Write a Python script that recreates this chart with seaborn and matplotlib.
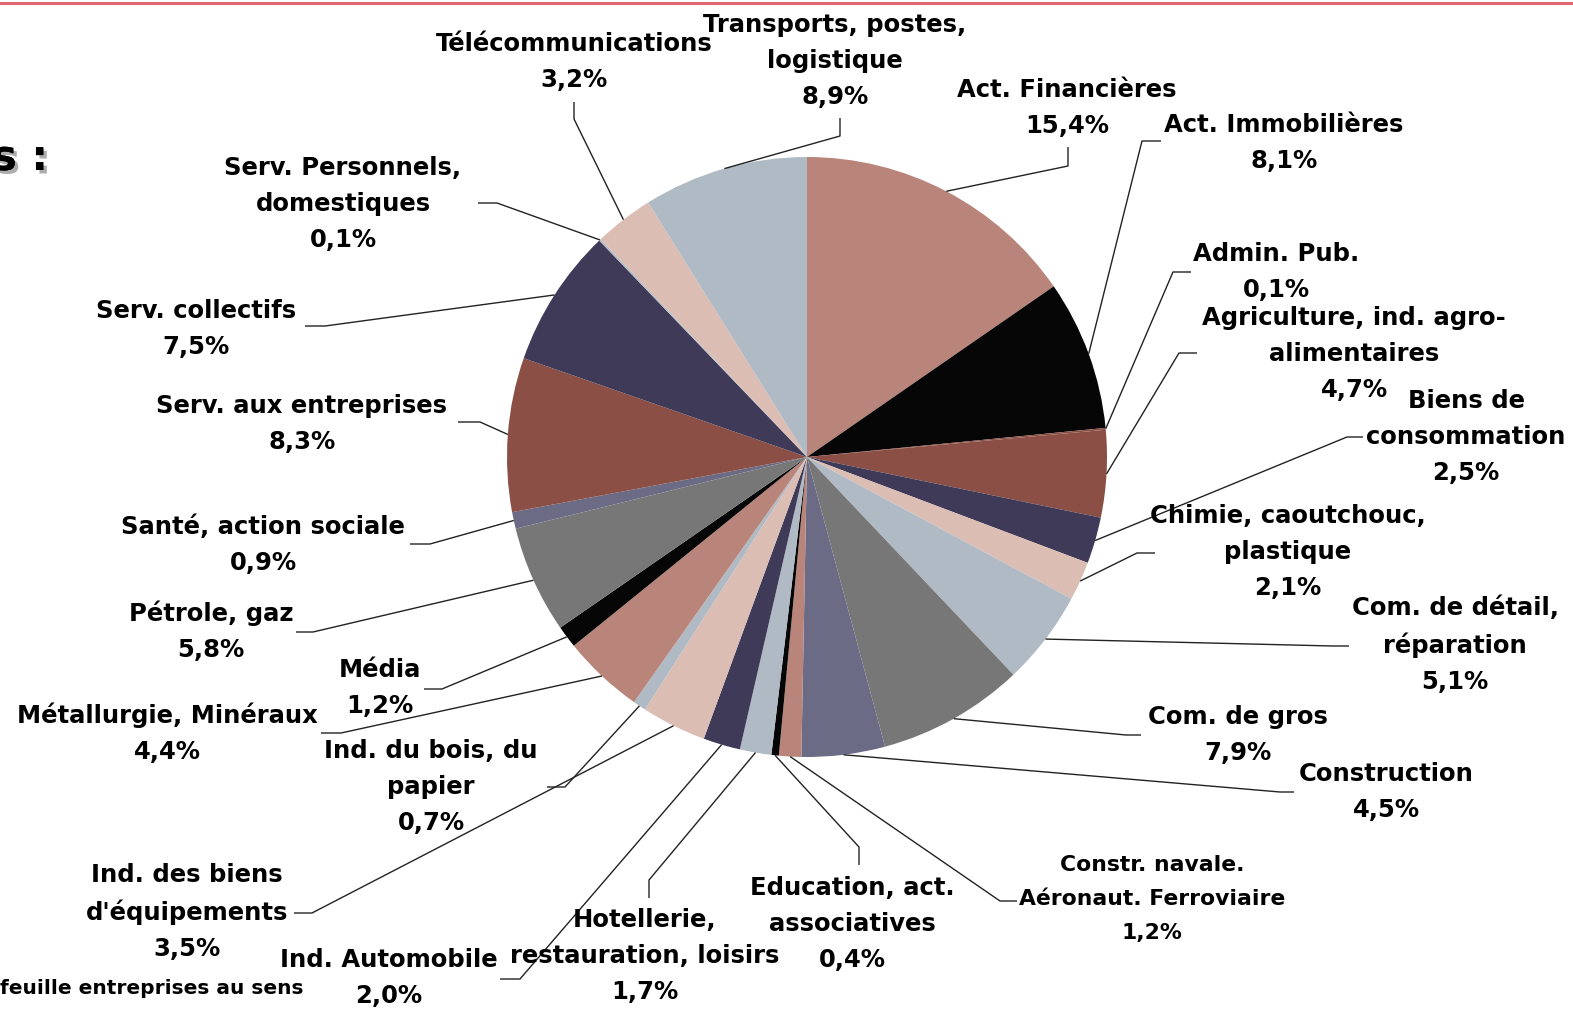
import matplotlib
matplotlib.use("Agg")
import matplotlib.pyplot as plt
import matplotlib.patheffects as pe
from matplotlib.lines import Line2D
import numpy as np
import seaborn as sns

sns.set_theme(style="white")
plt.rcParams['font.family'] = ['DejaVu Sans']

# ---------------- data ----------------
sectors = [
    "Act. Financières", "Act. Immobilières", "Admin. Pub.",
    "Agriculture, ind. agro-\nalimentaires", "Biens de\nconsommation",
    "Chimie, caoutchouc,\nplastique", "Com. de détail,\nréparation",
    "Com. de gros", "Construction", "Constr. navale.\nAéronaut. Ferroviaire",
    "Education, act.\nassociatives", "Hotellerie,\nrestauration, loisirs",
    "Ind. Automobile", "Ind. des biens\nd'équipements",
    "Ind. du bois, du\npapier", "Métallurgie, Minéraux", "Média",
    "Pétrole, gaz", "Santé, action sociale", "Serv. aux entreprises",
    "Serv. collectifs", "Serv. Personnels,\ndomestiques",
    "Télécommunications", "Transports, postes,\nlogistique",
]
shares = [15.4, 8.1, 0.1, 4.7, 2.5, 2.1, 5.1, 7.9, 4.5, 1.2, 0.4, 1.7,
          2.0, 3.5, 0.7, 4.4, 1.2, 5.8, 0.9, 8.3, 7.5, 0.1, 3.2, 8.9]
pct_labels = ["15,4%", "8,1%", "0,1%", "4,7%", "2,5%", "2,1%", "5,1%",
              "7,9%", "4,5%", "1,2%", "0,4%", "1,7%", "2,0%", "3,5%",
              "0,7%", "4,4%", "1,2%", "5,8%", "0,9%", "8,3%", "7,5%",
              "0,1%", "3,2%", "8,9%"]

# ---------------- styles ----------------
ROSY, BLACK, BROWN, NAVY = "#B9857A", "#060606", "#8B4F45", "#3F3A58"
PINK, LBLUE, GREY, SLATE = "#DBBDB4", "#B0BAC4", "#777777", "#6C6B85"
slice_colors = [ROSY, BLACK, BROWN, BROWN, NAVY, PINK, LBLUE, GREY, SLATE,
                ROSY, BLACK, LBLUE, NAVY, PINK, LBLUE, ROSY, BLACK, GREY,
                SLATE, BROWN, NAVY, LBLUE, PINK, LBLUE]

W, H = 1573, 1010
CX, CY, R = 807, 457, 300


def P(px, py):
    return ((px - CX) / R, (CY - py) / R)


# label layout in pixel coords: text centre, elbow, end of leader
layout = [
    ((1067, 108), (1068, 166), (1068, 147)),
    ((1284, 143), (1142, 141), (1161, 141)),
    ((1276, 272), (1173, 272), (1191, 272)),
    ((1354, 354), (1179, 353), (1197, 353)),
    ((1466, 437), (1347, 437), (1363, 437)),
    ((1288, 552), (1137, 553), (1155, 553)),
    ((1455, 645), (1333, 646), (1349, 646)),
    ((1238, 735), (1126, 735), (1141, 735)),
    ((1386, 792), (1280, 792), (1294, 792)),
    ((1152, 899), (1000, 901), (1017, 901)),
    ((852, 924), (859, 847), (859, 865)),
    ((645, 956), (649, 880), (649, 898)),
    ((389, 978), (520, 979), (500, 979)),
    ((187, 912), (312, 913), (294, 913)),
    ((431, 787), (565, 787), (547, 787)),
    ((167, 733), (341, 733), (321, 733)),
    ((380, 688), (442, 689), (424, 689)),
    ((211, 631), (313, 632), (296, 632)),
    ((263, 545), (430, 544), (410, 544)),
    ((302, 424), (480, 422), (458, 422)),
    ((196, 329), (325, 326), (305, 326)),
    ((343, 204), (497, 203), (478, 203)),
    ((574, 62), (574, 119), (574, 102)),
    ((835, 61), (840, 136), (840, 118)),
]

fig = plt.figure(figsize=(W / 100, H / 100), dpi=100)
fig.patch.set_facecolor("white")
ax = fig.add_axes([0, 0, 1, 1])
ax.set_facecolor("white")

wedges, _ = ax.pie(shares, colors=slice_colors, startangle=90,
                   counterclock=False, radius=1, center=(0, 0),
                   wedgeprops=dict(linewidth=0))

ax.set_xlim(-CX / R, (W - CX) / R)
ax.set_ylim(-(H - CY) / R, CY / R)
ax.set_aspect("equal")
ax.axis("off")

FS = 17.5
for i, (w, name, pct) in enumerate(zip(wedges, sectors, pct_labels)):
    (tx, ty), elbow, end = layout[i]
    mid = np.deg2rad((w.theta1 + w.theta2) / 2)
    sx, sy = np.cos(mid), np.sin(mid)
    ex, ey = P(*elbow)
    nx, ny = P(*end)
    ax.plot([sx, ex, nx], [sy, ey, ny], color="#222222", lw=1.0,
            solid_capstyle="butt", zorder=1)
    fs = FS * 0.9 if i == 9 else FS
    ls = 1.9 if i == 9 else 1.63
    ax.text(*P(tx, ty), name + "\n" + pct, ha="center", va="center",
            multialignment="center", fontsize=fs, fontweight="bold",
            color="black", linespacing=ls, zorder=3)

# cropped title fragment and footnote from the slide
fig.text(-8 / W, 1 - 158 / H, "s :", fontsize=30, fontweight="bold",
         ha="left", va="center", color="black",
         path_effects=[pe.withSimplePatchShadow(offset=(2.5, -2.5),
                                                shadow_rgbFace="#999999",
                                                alpha=0.8), pe.Normal()])
fig.text(0 / W, 1 - 988 / H, "feuille entreprises au sens", fontsize=14.5,
         fontweight="bold", ha="left", va="center", color="black")

# red rule at top of slide
fig.add_artist(Line2D([0, 1], [1 - 3 / H, 1 - 3 / H], transform=fig.transFigure,
                      color="#E0666F", lw=2.2))

fig.savefig("out.png", dpi=100, facecolor="white")
